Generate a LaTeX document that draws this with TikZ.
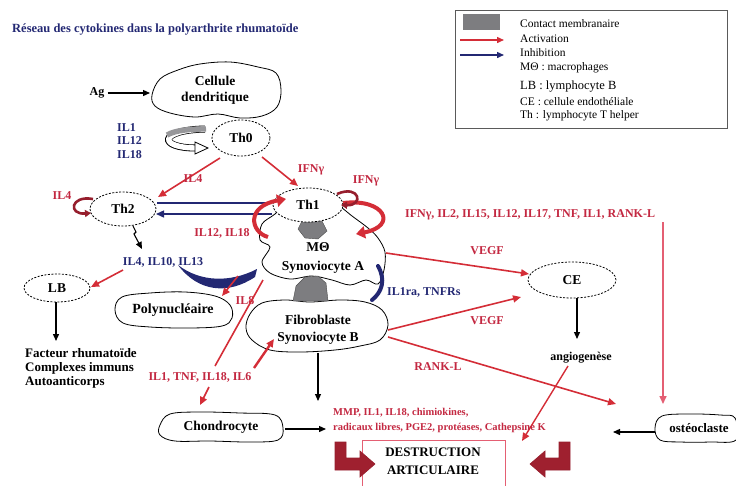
\documentclass[tikz,border=0pt]{standalone}
\usepackage{fontspec}
\setmainfont{Liberation Serif}
\usetikzlibrary{arrows.meta,shapes.geometric}
\definecolor{arred}{RGB}{212,45,55}
\definecolor{labred}{RGB}{195,40,65}
\definecolor{navy}{RGB}{35,40,115}
\definecolor{loopred}{RGB}{150,30,45}
\definecolor{contact}{RGB}{125,125,128}
\definecolor{pinkline}{RGB}{228,95,115}
\definecolor{legbord}{RGB}{90,90,90}
\begin{document}
\begin{tikzpicture}[x=1pt,y=-1pt,
  lbl/.style={font=\bfseries\fontsize{12}{14}\selectfont, inner sep=0pt},
  redlbl/.style={lbl, text=labred},
  navlbl/.style={lbl, text=navy},
  cell/.style={font=\bfseries\fontsize{13.5}{16}\selectfont, align=center, inner sep=0pt},
  leg/.style={font=\fontsize{11.5}{13}\selectfont, anchor=west, inner sep=0pt},
  blob/.style={draw=black, line width=0.8pt, fill=white},
  dell/.style={ellipse, draw=black, dash pattern=on 2pt off 1.5pt, line width=0.8pt, fill=white, inner sep=0pt, font=\bfseries\fontsize{13.5}{16}\selectfont},
  act/.style={draw=arred, line width=1.6pt, -{Triangle[length=8pt,width=7pt]}},
  blk/.style={draw=black, line width=1.3pt, -{Triangle[length=7pt,width=6pt]}},
  bigred/.style={draw=arred, line width=4pt, -{Triangle[length=9pt,width=12pt]}},
  loopy/.style={draw=loopred, line width=2.6pt, -{Triangle[length=6pt,width=7pt]}},
  contactfill/.style={fill=contact, draw=black!70, line width=0.4pt}
]
\useasboundingbox (0,0) rectangle (736,485);

% title
\node[anchor=west, text=navy, font=\bfseries\fontsize{12.5}{14}\selectfont, inner sep=0pt] (title) at (12,30) {Réseau des cytokines dans la polyarthrite rhumatoïde};

% legend
\node[draw=legbord, line width=0.8pt, minimum width=272pt, minimum height=118pt, anchor=north west, inner sep=0pt] (legend) at (455,10) {};
\fill[contact] (463,14) rectangle (500,30);
\coordinate (la1) at (460,40); \coordinate (la2) at (504,40);
\coordinate (lb1) at (460,55); \coordinate (lb2) at (504,55);
\draw[draw=arred, line width=1.4pt, -{Triangle[length=7pt,width=6pt]}] (la1) -- (la2);
\draw[draw=navy, line width=1.4pt, -{Triangle[length=7pt,width=6pt]}] (lb1) -- (lb2);
\node[leg] (l1) at (520,24) {Contact membranaire};
\node[leg] (l2) at (520,39) {Activation};
\node[leg] (l3) at (520,53) {Inhibition};
\node[leg] (l4) at (520,68) {MΘ : macrophages};
\node[leg, font=\fontsize{12.5}{14}\selectfont] (l5) at (520,87) {LB : lymphocyte B};
\node[leg] (l6) at (520,102) {CE : cellule endothéliale};
\node[leg] (l7) at (520,116) {Th : lymphocyte T helper};

% ---- blobs ----
% cellule dendritique
\draw[blob] plot[smooth cycle, tension=0.6] coordinates {(152,95) (160,79) (178,70) (200,64) (230,62) (258,67) (276,73) (281,90) (277,107) (262,116) (240,118) (218,114) (195,117) (170,113) (155,106)};
\node[cell] (cd) at (215,90) {Cellule\\dendritique};
\node[lbl] (ag) at (97,93) {Ag};
\coordinate (cdW) at (150,93);
\draw[blk] (ag.east) ++(3,0) -- (cdW);

% M0 / synoviocyte A
\draw[blob] plot[smooth cycle, tension=0.55] coordinates {(290,200) (275,214) (262,224) (260,240) (270,247) (262,262) (270,273) (290,279) (312,276) (332,280) (350,285) (366,280) (378,284) (384,270) (385,252) (378,238) (368,228) (352,216) (336,204) (315,198)};
% fibroblaste
\draw[blob] plot[smooth cycle, tension=0.6] coordinates {(250,314) (262,303) (285,300) (310,302) (340,300) (365,302) (382,310) (388,325) (380,340) (360,346) (335,350) (300,352) (270,350) (252,340) (246,328)};
% polynucleaire
\draw[blob] plot[smooth cycle, tension=0.6] coordinates {(115,310) (122,297) (150,293) (185,292) (215,296) (230,305) (232,318) (222,326) (190,328) (150,327) (123,323)};
% chondrocyte
\draw[blob] plot[smooth cycle, tension=0.6] coordinates {(160,425) (170,414) (200,412) (240,413) (275,415) (283,428) (278,440) (250,442) (210,441) (175,441) (160,435)};
% osteoclaste
\draw[blob] plot[smooth cycle, tension=0.6] coordinates {(655,428) (662,416) (690,414) (720,415) (735,418) (736,440) (710,442) (680,442) (660,440)};

% contacts
\draw[contactfill] (298,229) -- (302,221) -- (322,221) -- (327,231) -- (318,239) -- (305,238) -- cycle;
\draw[contactfill] (293,301) -- (296,286) -- (305,277) -- (318,276) -- (326,283) -- (328,301) -- cycle;

% ellipses
\node[dell, minimum width=58pt, minimum height=36pt] (th0) at (241,138) {Th0};
\node[dell, minimum width=66pt, minimum height=34pt] (th2) at (123,209) {Th2};
\node[dell, minimum width=70pt, minimum height=34pt] (th1) at (308,205) {Th1};
\node[dell, minimum width=66pt, minimum height=28pt] (lb) at (57,288) {LB};
\node[dell, minimum width=88pt, minimum height=36pt] (ce) at (572,280) {CE};

% cell texts
\node[cell] (m0) at (318,247) {MΘ};
\node[cell] (synA) at (323,267) {Synoviocyte A};
\node[cell] (fib) at (318,320) {Fibroblaste};
\node[cell] (synB) at (318,338) {Synoviocyte B};
\node[cell, font=\bfseries\fontsize{14}{16}\selectfont] (poly) at (173,310) {Polynucléaire};
\node[cell] (chon) at (221,427) {Chondrocyte};
\node[cell, font=\bfseries\fontsize{13}{16}\selectfont] (osteo) at (699,428) {ostéoclaste};

% hollow curved arrow (IL1 IL12 IL18)
\draw[black, line width=7pt] (205,129) .. controls (158,130) and (158,148) .. (196,148);
\draw[white, line width=5.4pt] (206,129) .. controls (158,130) and (158,148) .. (197,148);
\draw[contact!80, line width=5.4pt] (206,129) .. controls (190,129) and (176,130) .. (167,135);
\filldraw[fill=white, draw=black, line width=0.8pt] (195,142) -- (208,148) -- (195,154) -- cycle;
\node[navlbl, align=left, anchor=west, font=\bfseries\fontsize{12}{13.5}\selectfont] (ilx) at (117,141) {IL1\\IL12\\IL18};

% Th0 -> Th2, Th0 -> Th1
\coordinate (t0a) at (220,158); \coordinate (t2a) at (158,197);
\draw[act] (t0a) -- (t2a);
\node[redlbl] (il4a) at (193,179) {IL4};
\coordinate (t0b) at (262,157); \coordinate (t1a) at (298,186);
\draw[act] (t0b) -- (t1a);
\node[redlbl] (ifa) at (311,170) {IFNγ};

% Th2 self loop
\draw[loopy] (93,199) .. controls (70,195) and (68,215) .. (91,213);
\node[redlbl] (il4b) at (62,196) {IL4};

% Th2 / Th1 lines
\coordinate (t2e1) at (157,203); \coordinate (t1w1) at (272,203);
\draw[navy, line width=1.8pt] (t2e1) -- (t1w1);
\coordinate (t1w2) at (272,214); \coordinate (t2e2) at (156,214);
\draw[draw=navy, line width=1.4pt, -{Triangle[length=8pt,width=7pt]}] (t1w2) -- (t2e2);

% Th2 down
\coordinate (t2s) at (133,226); \coordinate (t2d) at (142,249);
\draw[blk, line width=1.1pt] (t2s) -- ++(3,6) -- ++(-2,2) -- (t2d);
\node[navlbl] (il410) at (163,262) {IL4, IL10, IL13};
\coordinate (ila) at (123,270); \coordinate (lbe) at (91,287);
\draw[act] (ila) -- (lbe);

% LB down
\coordinate (lbs) at (56,302); \coordinate (lbd) at (56,341);
\draw[blk] (lbs) -- (lbd);
\node[lbl, align=left, anchor=north west, font=\bfseries\fontsize{13}{14}\selectfont] (fact) at (25,348) {Facteur rhumatoïde\\Complexes immuns\\Autoanticorps};

% big red curved arrows around Th1
\draw[bigred] (268,237) .. controls (250,232) and (246,206) .. (286,199);
\node[redlbl] (il1218) at (222,233) {IL12, IL18};
\draw[bigred] (343,203) .. controls (385,198) and (398,226) .. (356,234);
\draw[loopy] (337,194) .. controls (360,184) and (364,206) .. (341,205);
\node[redlbl] (ifb) at (366,181) {IFNγ};
\node[redlbl, anchor=west] (iflong) at (405,215) {IFNγ, IL2, IL15, IL12, IL17, TNF, IL1, RANK-L};

% vertical line to osteoclaste
\coordinate (rkT) at (663,222); \coordinate (rkB) at (663,404);
\draw[draw=pinkline, line width=1.5pt, -{Triangle[length=8pt,width=7pt]}] (rkT) -- (rkB);

% VEGF
\coordinate (m0e) at (386,253); \coordinate (ceW) at (529,274);
\draw[act] (m0e) -- (ceW);
\node[redlbl] (vegf1) at (487,251) {VEGF};
\coordinate (fbe1) at (388,330); \coordinate (ceSW) at (521,297);
\draw[act] (fbe1) -- (ceSW);
\node[redlbl] (vegf2) at (487,321) {VEGF};
% RANK-L
\coordinate (fbe2) at (388,337); \coordinate (ostA) at (616,404);
\draw[act] (fbe2) -- (ostA);
\node[redlbl] (rankl) at (438,367) {RANK-L};

% CE -> angiogenese
\coordinate (ceS) at (577,298); \coordinate (angN) at (577,339);
\draw[blk] (ceS) -- (angN);
\node[lbl] (ang) at (581,358) {angiogenèse};
\coordinate (angS) at (568,366); \coordinate (dstN) at (522,441);
\draw[draw=arred, line width=1.4pt, -{Triangle[length=8pt,width=7pt]}] (angS) -- (dstN);

% IL1ra, TNFRs navy
\draw[navy, line width=4pt, line cap=round] (378,266) .. controls (386,280) and (382,292) .. (372,300);
\node[navlbl, anchor=west] (il1ra) at (387,292) {IL1ra, TNFRs};

% navy swoosh
\fill[navy] (178,265) .. controls (200,282) and (230,283) .. (257,269) -- (255,277) .. controls (228,295) and (198,292) .. (178,265) -- cycle;

% IL8
\coordinate (il8s) at (238,276); \coordinate (polyNE) at (222,296);
\draw[act] (il8s) -- (polyNE);
\node[redlbl] (il8) at (245,301) {IL8};

% long red to chondrocyte
\coordinate (m0sw) at (263,280); \coordinate (ilcA) at (215,366);
\draw[draw=arred, line width=1.6pt] (m0sw) -- (ilcA);
\node[redlbl] (ilc) at (200,377) {IL1, TNF, IL18, IL6};
\coordinate (ilcB) at (209,387); \coordinate (chN) at (200,405);
\draw[act] (ilcB) -- (chN);
\coordinate (ilcE) at (254,368); \coordinate (fibSW) at (274,339);
\draw[act, line width=2.4pt] (ilcE) -- (fibSW);

% fibro -> MMP
\coordinate (fibS) at (318,353); \coordinate (mmpN) at (318,401);
\draw[blk, line width=1.1pt] (fibS) -- (mmpN);
\node[redlbl, anchor=west, font=\bfseries\fontsize{10.5}{12}\selectfont] (mmp1) at (333,413) {MMP, IL1, IL18, chimiokines,};
\node[redlbl, anchor=west, font=\bfseries\fontsize{10.5}{12}\selectfont] (mmp2) at (333,428) {radicaux libres, PGE2, protéases, Cathepsine K};

% chondrocyte -> MMP, osteoclaste -> cathepsine
\coordinate (chE) at (285,429); \coordinate (mmpW) at (326,429);
\draw[blk] (chE) -- (mmpW);
\coordinate (osW) at (655,432); \coordinate (catE) at (613,432);
\draw[blk] (osW) -- (catE);

% destruction box
\node[draw=pinkline, line width=0.8pt, minimum width=143pt, minimum height=46pt, anchor=north west, inner sep=0pt] (dbox) at (362,440) {};
\node[cell, font=\bfseries\fontsize{13}{18}\selectfont] (dtxt) at (433,461) {DESTRUCTION\\ARTICULAIRE};

% L-shaped thick arrows
\filldraw[fill=loopred!85!arred, draw=loopred, line width=0.6pt] (335,442) -- (346,442) -- (346,458) -- (360,458) -- (360,451) -- (375,464) -- (360,477) -- (360,470) -- (335,470) -- cycle;
\filldraw[fill=loopred!85!arred, draw=loopred, line width=0.6pt] (570,442) -- (559,442) -- (559,458) -- (545,458) -- (545,451) -- (530,464) -- (545,477) -- (545,470) -- (570,470) -- cycle;
\end{tikzpicture}
\end{document}
